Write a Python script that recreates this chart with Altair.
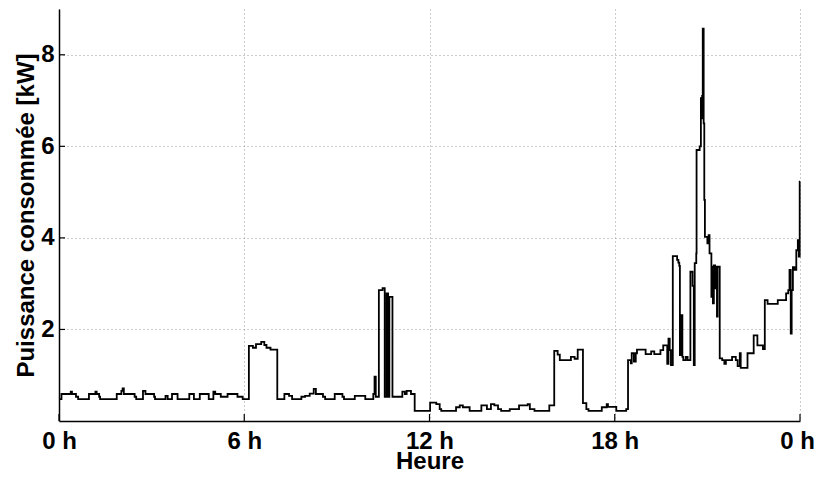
import altair as alt
import pandas as pd

# Change points of the measured load (hours, kW)
hours = [0.00, 0.08, 0.38, 0.42, 0.55, 0.62, 0.97, 1.18, 1.22, 1.30, 1.33, 1.87, 2.02, 2.06, 2.10,
         2.45, 2.50, 2.72, 2.80, 3.08, 3.11, 3.45, 3.52, 3.66, 3.84, 4.22, 4.37, 4.56, 4.85, 5.00,
         5.06, 5.24, 5.46, 5.78, 5.95, 6.15, 6.28, 6.38, 6.55, 6.65, 6.72, 6.85, 7.07, 7.30, 7.45,
         7.55, 7.85, 7.97, 8.12, 8.25, 8.32, 8.55, 8.62, 8.93, 9.18, 9.23, 9.58, 9.92, 10.18, 10.22,
         10.26, 10.36, 10.48, 10.55, 10.61, 10.66, 10.70, 10.80, 11.12, 11.20, 11.26, 11.40, 11.52, 12.02, 12.22,
         12.33, 12.38, 12.86, 12.98, 13.08, 13.30, 13.68, 13.86, 13.99, 14.10, 14.22, 14.32, 14.60, 14.90, 15.18,
         15.25, 15.40, 15.88, 16.04, 16.15, 16.22, 16.58, 16.70, 16.80, 16.97, 17.08, 17.15, 17.58, 17.74, 17.78,
         18.05, 18.37, 18.43, 18.52, 18.55, 18.62, 18.68, 18.72, 19.00, 19.18, 19.28, 19.48, 19.57, 19.70, 19.74,
         19.78, 19.82, 19.88, 20.02, 20.06, 20.09, 20.11, 20.16, 20.19, 20.22, 20.30, 20.36, 20.45, 20.52, 20.56,
         20.59, 20.64, 20.65, 20.75, 20.79, 20.82, 20.83, 20.85, 20.88, 20.90, 20.92, 21.00, 21.04, 21.07, 21.13,
         21.15, 21.18, 21.21, 21.25, 21.28, 21.31, 21.33, 21.40, 21.48, 21.55, 21.60, 21.80, 21.92, 21.98, 22.05,
         22.08, 22.30, 22.50, 22.62, 22.80, 22.86, 22.95, 23.28, 23.55, 23.62, 23.66, 23.70, 23.73, 23.77, 23.82,
         23.88, 23.93, 23.96, 23.99, 24.00]
power = [0.48, 0.59, 0.64, 0.59, 0.53, 0.48, 0.59, 0.64, 0.59, 0.53, 0.48, 0.59, 0.66, 0.71, 0.59,
         0.53, 0.48, 0.66, 0.59, 0.53, 0.48, 0.55, 0.48, 0.59, 0.48, 0.59, 0.48, 0.59, 0.48, 0.64,
         0.59, 0.53, 0.59, 0.53, 0.48, 1.64, 1.60, 1.68, 1.73, 1.66, 1.60, 1.56, 0.48, 0.59, 0.55,
         0.48, 0.53, 0.55, 0.60, 0.70, 0.59, 0.53, 0.48, 0.59, 0.53, 0.48, 0.55, 0.48, 0.59, 0.97,
         0.53, 2.86, 2.90, 0.53, 2.79, 0.53, 2.71, 0.53, 0.64, 0.59, 0.66, 0.59, 0.22, 0.40, 0.37,
         0.26, 0.22, 0.30, 0.34, 0.30, 0.22, 0.34, 0.26, 0.37, 0.34, 0.26, 0.22, 0.26, 0.34, 0.37,
         0.26, 0.22, 0.34, 1.53, 1.45, 1.33, 1.40, 1.36, 1.56, 0.39, 0.26, 0.22, 0.30, 0.37, 0.31,
         0.22, 0.26, 1.33, 1.26, 1.48, 1.30, 1.48, 1.56, 1.46, 1.52, 1.46, 1.55, 1.65, 1.25, 1.80,
         1.55, 1.22, 3.60, 3.52, 3.46, 3.39, 1.44, 2.31, 1.40, 1.33, 1.40, 1.33, 3.26, 2.95, 1.22,
         3.45, 3.66, 5.92, 6.00, 7.05, 6.61, 7.10, 8.57, 6.50, 4.83, 4.02, 3.88, 4.06, 3.66, 2.71,
         3.37, 2.57, 3.40, 2.90, 3.37, 2.28, 3.37, 1.37, 1.33, 1.25, 1.33, 1.40, 1.33, 1.20, 1.48,
         1.16, 1.48, 1.87, 1.65, 1.57, 2.64, 2.56, 2.64, 2.79, 2.86, 3.30, 1.91, 2.86, 3.36, 3.30,
         3.73, 3.95, 3.59, 5.23, 5.23]

x_ticks = [0, 6, 12, 18, 24]
x_tick_labels = ["0 h", "6 h", "12 h", "18 h", "0 h"]
y_ticks = [2, 4, 6, 8]

df = pd.DataFrame({"h": hours, "p": power})
df_xt = pd.DataFrame({"h": x_ticks})
df_yt = pd.DataFrame({"p": y_ticks})

label_expr = "".join(
    f"datum.value == {v} ? '{t}' : " for v, t in zip(x_ticks[:-1], x_tick_labels[:-1])
) + f"'{x_tick_labels[-1]}'"

FONT = "Liberation Sans"
xscale = alt.Scale(domain=[0, 24], nice=False, zero=False)
yscale = alt.Scale(domain=[0, 9], nice=False, zero=True)
xaxis = alt.Axis(values=x_ticks, labelExpr=label_expr, title="Heure", ticks=False,
                 labelPadding=8, titleY=28, titleBaseline="top", labelFlush=False,
                 labelOffset={"condition": {"test": f"datum.value == {x_ticks[-1]}", "value": -3},
                              "value": 0})
yaxis = alt.Axis(values=y_ticks, title="Puissance consommée [kW]", ticks=False,
                 labelPadding=5, titleX=-45, titleBaseline="top")

line = alt.Chart(df).mark_line(color="black", strokeWidth=1.8, interpolate="step-after").encode(
    x=alt.X("h:Q", scale=xscale, axis=xaxis),
    y=alt.Y("p:Q", scale=yscale, axis=yaxis),
)

xt = alt.Chart(df_xt).mark_rule(color="black", strokeWidth=1.2).encode(
    x=alt.X("h:Q", scale=xscale, axis=xaxis),
    y=alt.value(405), y2=alt.value(412),
)
yt = alt.Chart(df_yt).mark_rule(color="black", strokeWidth=1.2).encode(
    y=alt.Y("p:Q", scale=yscale, axis=yaxis),
    x=alt.value(0), x2=alt.value(6),
)

chart = alt.layer(line, xt, yt).properties(
    width=741, height=412,
    autosize=alt.AutoSizeParams(type="none"),
    padding={"left": 51, "top": 1, "right": 15, "bottom": 48},
).configure_view(stroke=None).configure_axis(
    labelFont=FONT, labelFontSize=24, labelFontWeight="bold", labelColor="black",
    titleFont=FONT, titleFontSize=24, titleFontWeight="bold", titleColor="black",
    domainColor="black", domainWidth=1.5,
    gridColor="#999999", gridDash=[1, 3], gridWidth=1, gridOpacity=1,
)

chart.save("out.html", embed_options={"renderer": "svg", "actions": False})
